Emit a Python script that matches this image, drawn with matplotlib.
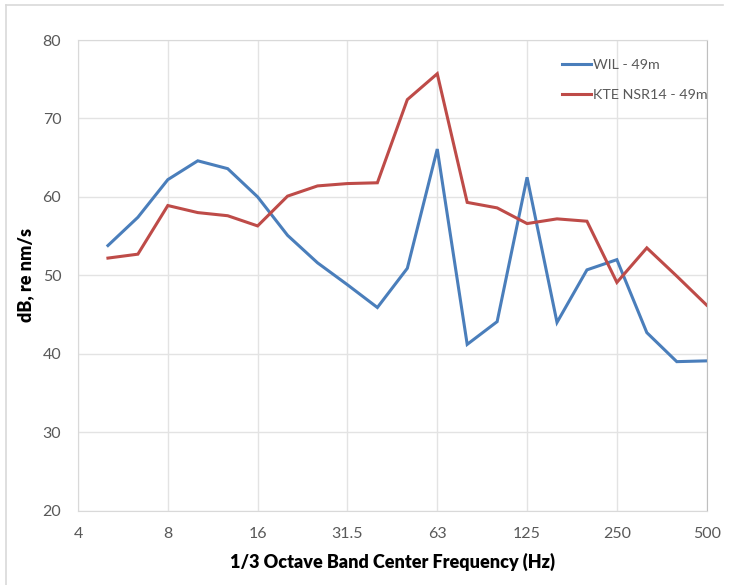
import matplotlib
matplotlib.use("Agg")
import matplotlib.pyplot as plt
from matplotlib.lines import Line2D
import numpy as np

plt.rcParams["font.family"] = ["Lato", "DejaVu Sans"]

# 1/3 octave band centre frequencies (Hz), 4 .. 500
bands = ["4", "5", "6.3", "8", "10", "12.5", "16", "20", "25", "31.5", "40",
         "50", "63", "80", "100", "125", "160", "200", "250", "315", "400", "500"]
tick_labels = ["4", "8", "16", "31.5", "63", "125", "250", "500"]

# levels in dB re nm/s, starting at the 5 Hz band
wil_49m = [53.8, 57.4, 62.2, 64.6, 63.6, 60.0, 55.1, 51.6, 48.8, 45.9, 50.9,
           66.1, 41.2, 44.1, 62.5, 44.0, 50.7, 52.0, 42.7, 39.0, 39.1]
kte_49m = [52.2, 52.7, 58.9, 58.0, 57.6, 56.3, 60.1, 61.4, 61.7, 61.8, 72.4,
           75.7, 59.3, 58.6, 56.6, 57.2, 56.9, 49.1, 53.5, 49.9, 46.2]

fig = plt.figure(figsize=(7.29, 5.85), dpi=100)
ax = fig.add_axes([78 / 729, 1 - 510.7 / 585, (706.7 - 78) / 729, (510.7 - 40) / 585])

x = np.arange(1, len(bands))
ax.plot(x, wil_49m, color="#4A7EBB", lw=2.2, label="WIL - 49m", solid_joinstyle="miter")
ax.plot(x, kte_49m, color="#BE4B48", lw=2.2, label="KTE NSR14 - 49m", solid_joinstyle="miter")

ax.set_xlim(0, len(bands) - 1)
ax.set_ylim(20, 80)
ticks = [bands.index(t) for t in tick_labels]
ax.set_xticks(ticks)
ax.set_xticklabels(tick_labels)
ax.set_yticks(range(20, 81, 10))

ax.grid(True, color="#E3E3E3", lw=1)
ax.set_axisbelow(True)
ax.tick_params(length=0, labelsize=11.5, colors="#595959", pad=12)
for side in ["left", "bottom", "top"]:
    ax.spines[side].set_color("#D9D9D9")
ax.spines["right"].set_color("#BFBFBF")

ax.set_xlabel("1/3 Octave Band Center Frequency (Hz)", fontsize=13, fontweight="heavy", labelpad=8)
ax.set_ylabel("dB, re nm/s", fontsize=13, fontweight="heavy", labelpad=6)

leg = ax.legend(loc="upper left", frameon=False, fontsize=10.3, handlelength=2.05,
                handletextpad=0.1, labelspacing=1.3, borderpad=0, borderaxespad=0,
                bbox_to_anchor=((562 - 78) / 628.7, (510.7 - 58.5) / 470.7))
for t in leg.get_texts():
    t.set_color("#595959")

# chart area frame
fig.add_artist(Line2D([6 / 729, 6 / 729], [0, 1 - 5 / 585], color="#D9D9D9", lw=1.2))
fig.add_artist(Line2D([6 / 729, 723 / 729], [1 - 5 / 585, 1 - 5 / 585], color="#D9D9D9", lw=1.2))

fig.savefig("out.png", dpi=100)
